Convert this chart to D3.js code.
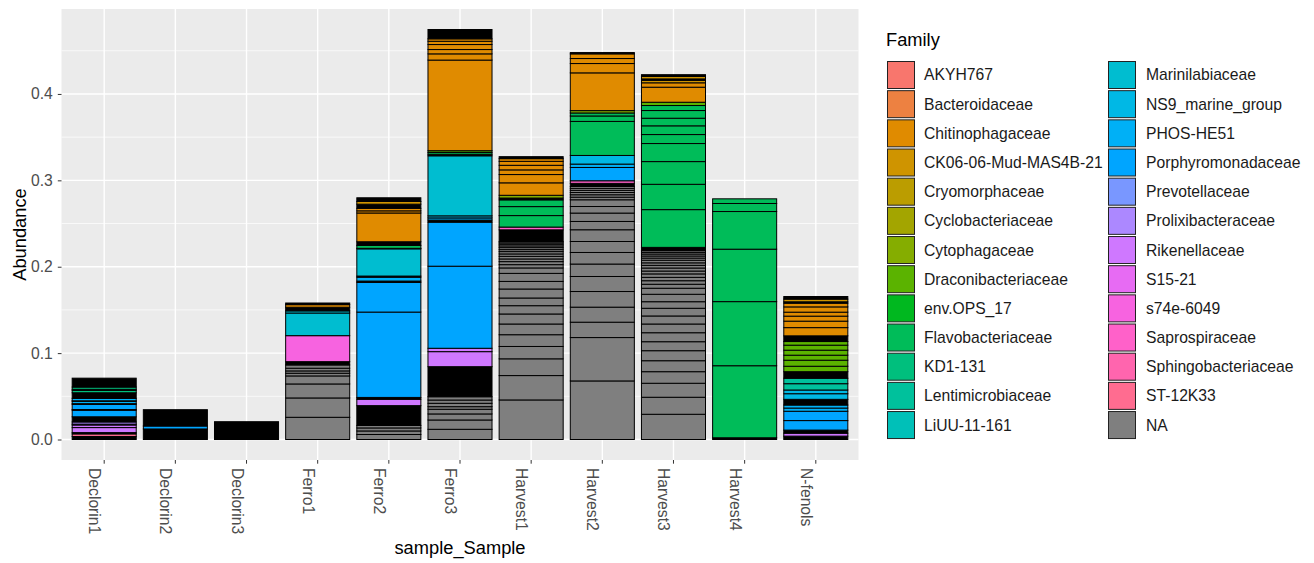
<!DOCTYPE html>
<html>
<head>
<meta charset="utf-8">
<script src="https://cdnjs.cloudflare.com/ajax/libs/d3/7.8.5/d3.min.js"></script>
<style>
  body { margin: 0; background: #fff; }
  svg text { font-family: "Liberation Sans", Arial, sans-serif; }
</style>
</head>
<body>
<div id="chart"></div>
<script>
const samples = ['Declorin1', 'Declorin2', 'Declorin3', 'Ferro1', 'Ferro2', 'Ferro3',
  'Harvest1', 'Harvest2', 'Harvest3', 'Harvest4', 'N-fenols']

const families = ['AKYH767', 'Bacteroidaceae', 'Chitinophagaceae', 'CK06-06-Mud-MAS4B-21',
  'Cryomorphaceae', 'Cyclobacteriaceae', 'Cytophagaceae', 'Draconibacteriaceae', 'env.OPS_17',
  'Flavobacteriaceae', 'KD1-131', 'Lentimicrobiaceae', 'LiUU-11-161', 'Marinilabiaceae',
  'NS9_marine_group', 'PHOS-HE51', 'Porphyromonadaceae', 'Prevotellaceae', 'Prolixibacteraceae',
  'Rikenellaceae', 'S15-21', 's74e-6049', 'Saprospiraceae', 'Sphingobacteriaceae', 'ST-12K33']

const yTicks = [0, 0.1, 0.2, 0.3, 0.4]

// OTU segments, bottom to top: [family, abundance, dense]
// dense = a run of many tiny OTUs, their outlines merge into solid black
const declorin1 = [
  ['NA', 0.0035, 1], ['ST-12K33', 0.0030], ['Rikenellaceae', 0.0015, 1], ['Rikenellaceae', 0.0058],
  ['Rikenellaceae', 0.0030], ['Rikenellaceae', 0.0010, 1], ['Prolixibacteraceae', 0.0025],
  ['Porphyromonadaceae', 0.0060, 1], ['Porphyromonadaceae', 0.0076], ['Porphyromonadaceae', 0.0008, 1],
  ['Porphyromonadaceae', 0.0060], ['PHOS-HE51', 0.0008, 1], ['PHOS-HE51', 0.0028],
  ['PHOS-HE51', 0.0005, 1], ['PHOS-HE51', 0.0028], ['KD1-131', 0.0065, 1], ['KD1-131', 0.0028],
  ['KD1-131', 0.0012, 1], ['KD1-131', 0.0026], ['Flavobacteriaceae', 0.0103, 1]
]
const declorin2 = [
  ['NA', 0.0122, 1], ['Porphyromonadaceae', 0.0034], ['Porphyromonadaceae', 0.0189, 1]
]
const declorin3 = [
  ['NA', 0.0206, 1]
]
const ferro1 = [
  ['NA', 0.0257], ['NA', 0.0224], ['NA', 0.0162], ['NA', 0.0093], ['NA', 0.0031], ['NA', 0.0027],
  ['NA', 0.0031], ['NA', 0.0038], ['NA', 0.0038, 1], ['s74e-6049', 0.0301], ['Marinilabiaceae', 0.0262],
  ['Marinilabiaceae', 0.0025], ['Flavobacteriaceae', 0.0042, 1], ['Chitinophagaceae', 0.0030],
  ['Bacteroidaceae', 0.0019, 1]
]
const ferro2 = [
  ['NA', 0.0058], ['NA', 0.0041], ['NA', 0.0035], ['NA', 0.0029], ['NA', 0.0229, 1],
  ['Rikenellaceae', 0.0074], ['Porphyromonadaceae', 0.0021, 1], ['Porphyromonadaceae', 0.0988],
  ['Porphyromonadaceae', 0.0344], ['PHOS-HE51', 0.0015, 1], ['PHOS-HE51', 0.0045],
  ['Marinilabiaceae', 0.0013, 1], ['Marinilabiaceae', 0.0315], ['Flavobacteriaceae', 0.0006, 1],
  ['Flavobacteriaceae', 0.0034], ['Chitinophagaceae', 0.0042, 1], ['Chitinophagaceae', 0.0333],
  ['Chitinophagaceae', 0.0025], ['Chitinophagaceae', 0.0029], ['CK06-06-Mud-MAS4B-21', 0.0048, 1],
  ['CK06-06-Mud-MAS4B-21', 0.0031], ['Bacteroidaceae', 0.0043, 1]
]
const ferro3 = [
  ['NA', 0.0118], ['NA', 0.0108], ['NA', 0.0070], ['NA', 0.0054], ['NA', 0.0030], ['NA', 0.0039],
  ['NA', 0.0038], ['NA', 0.0038], ['NA', 0.0348, 1], ['Rikenellaceae', 0.0174], ['Rikenellaceae', 0.0039],
  ['Porphyromonadaceae', 0.0950], ['Porphyromonadaceae', 0.0510], ['PHOS-HE51', 0.0024, 1],
  ['PHOS-HE51', 0.0025], ['NS9_marine_group', 0.0024], ['Marinilabiaceae', 0.0695],
  ['Flavobacteriaceae', 0.0018, 1], ['Flavobacteriaceae', 0.0021], ['Draconibacteriaceae', 0.0020],
  ['Chitinophagaceae', 0.1049], ['Chitinophagaceae', 0.0072], ['Chitinophagaceae', 0.0050],
  ['Chitinophagaceae', 0.0058], ['Chitinophagaceae', 0.0038], ['Chitinophagaceae', 0.0028],
  ['Bacteroidaceae', 0.0108, 1]
]
const harvest1 = [
  ['NA', 0.0458], ['NA', 0.0282], ['NA', 0.0194], ['NA', 0.0143], ['NA', 0.0136], ['NA', 0.0124],
  ['NA', 0.0116], ['NA', 0.0096], ['NA', 0.0089], ['NA', 0.0104], ['NA', 0.0088], ['NA', 0.0093],
  ['NA', 0.0063], ['NA', 0.0038], ['NA', 0.0035], ['NA', 0.0031], ['NA', 0.0030], ['NA', 0.0028],
  ['NA', 0.0027], ['NA', 0.0023], ['NA', 0.0023], ['NA', 0.0020], ['NA', 0.0019], ['NA', 0.0016],
  ['NA', 0.0015], ['NA', 0.0136, 1], ['Saprospiraceae', 0.0032], ['Flavobacteriaceae', 0.0133],
  ['Flavobacteriaceae', 0.0104], ['Flavobacteriaceae', 0.0078], ['Flavobacteriaceae', 0.0021, 1],
  ['Cytophagaceae', 0.0032], ['Chitinophagaceae', 0.0144], ['Chitinophagaceae', 0.0096],
  ['Chitinophagaceae', 0.0054], ['Chitinophagaceae', 0.0053], ['Chitinophagaceae', 0.0046],
  ['Chitinophagaceae', 0.0031], ['Bacteroidaceae', 0.0023, 1]
]
const harvest2 = [
  ['NA', 0.0678], ['NA', 0.0502], ['NA', 0.0178], ['NA', 0.0174], ['NA', 0.0181], ['NA', 0.0174],
  ['NA', 0.0144], ['NA', 0.0134], ['NA', 0.0127], ['NA', 0.0136], ['NA', 0.0096], ['NA', 0.0097],
  ['NA', 0.0076], ['NA', 0.0078], ['NA', 0.0030], ['NA', 0.0028], ['NA', 0.0026], ['NA', 0.0025],
  ['NA', 0.0023], ['NA', 0.0022], ['NA', 0.0036, 1], ['Saprospiraceae', 0.0030],
  ['Porphyromonadaceae', 0.0154], ['PHOS-HE51', 0.0039], ['NS9_marine_group', 0.0100],
  ['Flavobacteriaceae', 0.0394], ['Flavobacteriaceae', 0.0063], ['Flavobacteriaceae', 0.0035],
  ['Cytophagaceae', 0.0027], ['Chitinophagaceae', 0.0437], ['Chitinophagaceae', 0.0108],
  ['Chitinophagaceae', 0.0058], ['Chitinophagaceae', 0.0054], ['Bacteroidaceae', 0.0015, 1]
]
const harvest3 = [
  ['NA', 0.0292], ['NA', 0.0197], ['NA', 0.0162], ['NA', 0.0134], ['NA', 0.0127], ['NA', 0.0116],
  ['NA', 0.0104], ['NA', 0.0104], ['NA', 0.0101], ['NA', 0.0093], ['NA', 0.0089], ['NA', 0.0076],
  ['NA', 0.0086], ['NA', 0.0070], ['NA', 0.0046], ['NA', 0.0041], ['NA', 0.0039], ['NA', 0.0040],
  ['NA', 0.0033], ['NA', 0.0035], ['NA', 0.0031], ['NA', 0.0029], ['NA', 0.0030], ['NA', 0.0025],
  ['NA', 0.0024], ['NA', 0.0023], ['NA', 0.0019], ['NA', 0.0020], ['NA', 0.0038, 1],
  ['Flavobacteriaceae', 0.0437], ['Flavobacteriaceae', 0.0293], ['Flavobacteriaceae', 0.0263],
  ['Flavobacteriaceae', 0.0209], ['Flavobacteriaceae', 0.0104], ['Flavobacteriaceae', 0.0101],
  ['Flavobacteriaceae', 0.0088], ['Flavobacteriaceae', 0.0089], ['Flavobacteriaceae', 0.0058],
  ['Draconibacteriaceae', 0.0038], ['Chitinophagaceae', 0.0174], ['Chitinophagaceae', 0.0051],
  ['CK06-06-Mud-MAS4B-21', 0.0029], ['CK06-06-Mud-MAS4B-21', 0.0016, 1],
  ['CK06-06-Mud-MAS4B-21', 0.0029], ['Bacteroidaceae', 0.0020, 1]
]
const harvest4 = [
  ['NA', 0.0020, 1], ['Flavobacteriaceae', 0.0834], ['Flavobacteriaceae', 0.0742],
  ['Flavobacteriaceae', 0.0607], ['Flavobacteriaceae', 0.0436], ['Flavobacteriaceae', 0.0093],
  ['Flavobacteriaceae', 0.0054]
]
const nfenols = [
  ['NA', 0.0039, 1], ['Rikenellaceae', 0.0034], ['Rikenellaceae', 0.0036, 1],
  ['Porphyromonadaceae', 0.0110], ['Porphyromonadaceae', 0.0108], ['PHOS-HE51', 0.0037],
  ['PHOS-HE51', 0.0035], ['PHOS-HE51', 0.0066, 1], ['NS9_marine_group', 0.0065],
  ['NS9_marine_group', 0.0043], ['Lentimicrobiaceae', 0.0073], ['Lentimicrobiaceae', 0.0063],
  ['Lentimicrobiaceae', 0.0076, 1], ['Draconibacteriaceae', 0.0063], ['Draconibacteriaceae', 0.0070],
  ['Draconibacteriaceae', 0.0058], ['Draconibacteriaceae', 0.0058], ['Draconibacteriaceae', 0.0058],
  ['Draconibacteriaceae', 0.0042], ['Draconibacteriaceae', 0.0066, 1], ['Chitinophagaceae', 0.0095],
  ['Chitinophagaceae', 0.0075], ['Chitinophagaceae', 0.0058], ['Chitinophagaceae', 0.0046],
  ['Chitinophagaceae', 0.0061], ['Chitinophagaceae', 0.0043], ['Chitinophagaceae', 0.0016, 1],
  ['CK06-06-Mud-MAS4B-21', 0.0031], ['Bacteroidaceae', 0.0030, 1]
]
const sampleSegments = [declorin1, declorin2, declorin3, ferro1, ferro2, ferro3,
  harvest1, harvest2, harvest3, harvest4, nfenols]

// ggplot's default hue palette: R hcl(h, c = 100, l = 65), polar CIE-Luv
function hueColor(h) {
  const L = 65, C = 100
  const rad = h * Math.PI / 180
  const U = C * Math.cos(rad), V = C * Math.sin(rad)
  const Y = Math.pow((L + 16) / 116, 3)
  const Xn = 0.95047, Yn = 1, Zn = 1.08883
  const den = Xn + 15 * Yn + 3 * Zn
  const u = U / (13 * L) + 4 * Xn / den
  const v = V / (13 * L) + 9 * Yn / den
  const X = 9 * Y * u / (4 * v)
  const Z = Y * (12 - 3 * u - 20 * v) / (4 * v)
  const lin = [
    3.240479 * X - 1.537150 * Y - 0.498535 * Z,
    -0.969256 * X + 1.875992 * Y + 0.041556 * Z,
    0.055648 * X - 0.204043 * Y + 1.057311 * Z
  ]
  const rgb = lin.map(c => {
    c = Math.max(0, Math.min(1, c))
    return 255 * (c <= 0.0031308 ? 12.92 * c : 1.055 * Math.pow(c, 1 / 2.4) - 0.055)
  })
  return d3.rgb(rgb[0], rgb[1], rgb[2]).formatHex()
}

const color = d3.scaleOrdinal()
  .domain(families)
  .range(families.map((f, i) => hueColor(15 + i * 360 / families.length)))
  .unknown('#7F7F7F')

const width = 1314
const height = 563
const panel = { left: 61.5, right: 858.5, top: 9, bottom: 460 }

const svg = d3.select('#chart')
  .append('svg')
  .attr('width', width)
  .attr('height', height)

// stack each sample's OTUs
const stacks = sampleSegments.map((segs, i) => {
  let acc = 0
  return segs.map(d => {
    const s = { sample: samples[i], family: d[0], dense: !!d[2], y0: acc }
    acc += d[1]
    s.y1 = acc
    return s
  })
})
const maxTotal = d3.max(stacks, s => s[s.length - 1].y1)

const x = d3.scaleBand()
  .domain(samples)
  .range([panel.left, panel.right])
  .paddingInner(0.1)
  .paddingOuter(0.15)

const y = d3.scaleLinear()
  .domain([-0.05 * maxTotal, 1.05 * maxTotal])
  .range([panel.bottom, panel.top])

// panel background + grid
svg.append('rect')
  .attr('x', panel.left).attr('y', panel.top)
  .attr('width', panel.right - panel.left)
  .attr('height', panel.bottom - panel.top)
  .attr('fill', '#EBEBEB')

const minorTicks = [0.05, 0.15, 0.25, 0.35, 0.45]
svg.append('g').selectAll('line')
  .data(minorTicks)
  .enter().append('line')
  .attr('x1', panel.left).attr('x2', panel.right)
  .attr('y1', d => y(d)).attr('y2', d => y(d))
  .attr('stroke', '#fff').attr('stroke-width', 0.7)

svg.append('g').selectAll('line')
  .data(yTicks)
  .enter().append('line')
  .attr('x1', panel.left).attr('x2', panel.right)
  .attr('y1', d => y(d)).attr('y2', d => y(d))
  .attr('stroke', '#fff').attr('stroke-width', 1.4)

svg.append('g').selectAll('line')
  .data(samples)
  .enter().append('line')
  .attr('x1', d => x(d) + x.bandwidth() / 2).attr('x2', d => x(d) + x.bandwidth() / 2)
  .attr('y1', panel.top).attr('y2', panel.bottom)
  .attr('stroke', '#fff').attr('stroke-width', 1.4)

// bars
const bars = svg.append('g')
stacks.forEach(segs => {
  bars.append('g')
    .selectAll('rect')
    .data(segs)
    .enter()
    .append('rect')
    .attr('x', d => x(d.sample))
    .attr('width', x.bandwidth())
    .attr('y', d => y(d.y1))
    .attr('height', d => y(d.y0) - y(d.y1))
    .attr('fill', d => d.dense ? '#000' : color(d.family))
    .attr('stroke', '#000')
    .attr('stroke-width', 1)
})

// y axis
const yAxis = svg.append('g')
  .attr('transform', `translate(${panel.left}, 0)`)
  .call(d3.axisLeft(y).tickValues(yTicks).tickFormat(d3.format('.1f')).tickSize(3.7).tickPadding(5))
yAxis.select('.domain').remove()
yAxis.selectAll('line').attr('stroke', '#333')
yAxis.selectAll('text').attr('fill', '#4D4D4D').style('font-size', '15.7px')

// x axis, labels turned to read downwards and hung left of the tick
const xAxis = svg.append('g')
  .attr('transform', `translate(0, ${panel.bottom})`)
  .call(d3.axisBottom(x).tickSize(3.7))
xAxis.select('.domain').remove()
xAxis.selectAll('line').attr('stroke', '#333')
xAxis.selectAll('text')
  .attr('fill', '#4D4D4D')
  .style('font-size', '15.7px')
  .attr('transform', 'rotate(90)')
  .attr('text-anchor', 'start')
  .attr('x', 8)
  .attr('y', 15)
  .attr('dy', 0)

// axis titles
svg.append('text')
  .text('sample_Sample')
  .attr('x', (panel.left + panel.right) / 2)
  .attr('y', 554)
  .attr('text-anchor', 'middle')
  .style('font-size', '18.3px')

svg.append('text')
  .text('Abundance')
  .attr('transform', `translate(25.5, ${(panel.top + panel.bottom) / 2}) rotate(-90)`)
  .attr('text-anchor', 'middle')
  .style('font-size', '18.3px')

// legend
const legendItems = families.concat(['NA'])
const legend = svg.append('g')
legend.append('text')
  .text('Family')
  .attr('x', 886)
  .attr('y', 46)
  .style('font-size', '18.3px')

const rowH = 29.17
const keyItems = legend.selectAll('g.key')
  .data(legendItems)
  .enter()
  .append('g')
  .attr('class', 'key')
  .attr('transform', (d, i) => `translate(${i < 13 ? 887.5 : 1108.5}, ${61.5 + (i % 13) * rowH})`)

keyItems.append('rect')
  .attr('width', 27)
  .attr('height', 27)
  .attr('fill', d => color(d))
  .attr('stroke', '#222')
  .attr('stroke-width', 1)

keyItems.append('text')
  .text(d => d)
  .attr('x', (d, i) => i < 13 ? 36.5 : 37.5)
  .attr('y', 13.5)
  .attr('dy', '0.35em')
  .attr('fill', '#1A1A1A')
  .style('font-size', '15.7px')
</script>
</body>
</html>
